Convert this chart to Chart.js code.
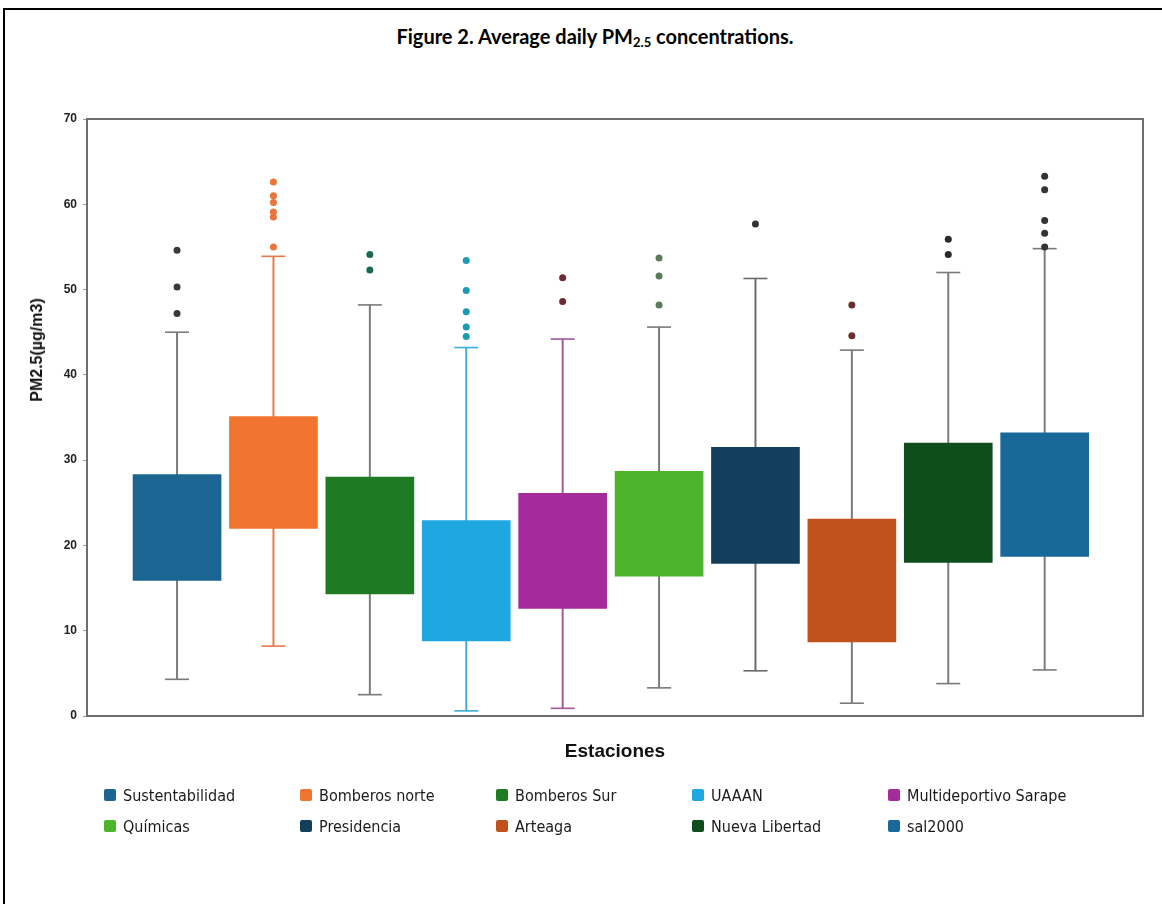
<!DOCTYPE html>
<html>
<head>
<meta charset="utf-8">
<script src="https://cdn.jsdelivr.net/npm/chart.js@4.4.1/dist/chart.umd.min.js"></script>
<style>
  body { margin: 0; background: #fff; }
  #page { position: relative; width: 1162px; height: 904px; overflow: hidden; background: #fff; }
  #frame { position: absolute; left: 3px; top: 8px; width: 1170px; height: 910px;
           border-left: 2px solid #000; border-top: 2px solid #000; }
  #title { position: absolute; left: 0; top: 24px; width: 1162px; text-align: center;
           font: bold 20px Lato, "Liberation Sans", sans-serif; color: #000; padding-left: 28px; box-sizing: border-box; }
  #title sub { font-size: 13px; vertical-align: -3px; line-height: 0; }
  #wrap { position: absolute; left: 0; top: 0; width: 1162px; height: 904px; }
  #ytitle { position: absolute; left: 37px; top: 350px; transform: translate(-50%, -50%) rotate(-90deg);
            white-space: nowrap; font: bold 16px "Liberation Sans", Arial, sans-serif; color: #111; }
  #legend { position: absolute; left: 104px; top: 786px; display: grid;
            grid-template-columns: repeat(5, 196px); row-gap: 13px; }
  .item { display: flex; align-items: center; height: 18px;
          font: 16px "DejaVu Sans Condensed", "DejaVu Sans", sans-serif; color: #1a1a1a; }
  .sw { width: 12px; height: 12px; border-radius: 2px; margin-right: 7px; flex: none; }
</style>
</head>
<body>
<div id="page">
  <div id="frame"></div>
  <div id="title">Figure 2. Average daily PM<sub>2.5</sub> concentrations.</div>
  <div id="wrap"><canvas id="boxChart"></canvas></div>
  <div id="ytitle">PM2.5(µg/m3)</div>
  <div id="legend"></div>
</div>
<script>
// estaciones y valores (µg/m3)
var stations = ['Sustentabilidad', 'Bomberos norte', 'Bomberos Sur', 'UAAAN', 'Multideportivo Sarape',
                'Químicas', 'Presidencia', 'Arteaga', 'Nueva Libertad', 'sal2000'];
var q1 = [15.9, 22.0, 14.3, 8.8, 12.6, 16.4, 17.9, 8.7, 18.0, 18.7];
var q3 = [28.3, 35.1, 28.0, 22.9, 26.1, 28.7, 31.5, 23.1, 32.0, 33.2];
var whiskerLow = [4.3, 8.2, 2.5, 0.6, 0.9, 3.3, 5.3, 1.5, 3.8, 5.4];
var whiskerHigh = [45.0, 53.9, 48.2, 43.2, 44.2, 45.6, 51.3, 42.9, 52.0, 54.8];
var outliers = [
  [54.6, 50.3, 47.2],
  [62.6, 61.0, 60.2, 59.1, 58.5, 55.0],
  [54.1, 52.3],
  [53.4, 49.9, 47.4, 45.6, 44.5],
  [51.4, 48.6],
  [53.7, 51.6, 48.2],
  [57.7],
  [48.2, 44.6],
  [55.9, 54.1],
  [63.3, 61.7, 58.1, 56.6, 55.0]
];
var yTicks = [0, 10, 20, 30, 40, 50, 60, 70];

var boxColors = ['#1c6592', '#f1742f', '#1f7a24', '#1ea7e1', '#a52a9c',
                 '#4cb52b', '#133e5e', '#c2521b', '#104d1c', '#18699a'];
var whiskerColors = ['#7a7a7a', '#e8794a', '#7a7a7a', '#3aaed6', '#a0589a',
                     '#7a7a7a', '#6a6a6a', '#7a7a7a', '#7a7a7a', '#7a7a7a'];
var dotColors = ['#3a3a3a', '#e8763a', '#1d6a4a', '#1b9bb0', '#6b2c3a',
                 '#5c7a5c', '#333333', '#6a2e2e', '#2a2a2a', '#333333'];

// leyenda en html (5 columnas)
var legend = document.getElementById('legend');
stations.forEach(function (s, i) {
  var d = document.createElement('div');
  d.className = 'item';
  d.innerHTML = '<span class="sw" style="background:' + boxColors[i] + '"></span>' + s;
  legend.appendChild(d);
});

var boxData = [], whiskerData = [], capData = [], capColors = [], dotData = [], dotPointColors = [];
stations.forEach(function (s, i) {
  boxData.push({x: i + 1, y: [q1[i], q3[i]]});
  whiskerData.push({x: i + 1, y: [whiskerLow[i], whiskerHigh[i]]});
  capData.push({x: i + 1, y: whiskerLow[i]});
  capData.push({x: i + 1, y: whiskerHigh[i]});
  capColors.push(whiskerColors[i], whiskerColors[i]);
  outliers[i].forEach(function (v) {
    dotData.push({x: i + 1, y: v});
    dotPointColors.push(dotColors[i]);
  });
});

var plotFrame = {
  id: 'plotFrame',
  beforeDatasetsDraw: function (chart) {
    var a = chart.chartArea, ctx = chart.ctx;
    ctx.save();
    ctx.strokeStyle = '#6e6e6e';
    ctx.lineWidth = 2;
    ctx.strokeRect(a.left, a.top, a.right - a.left, a.bottom - a.top);
    ctx.restore();
  }
};

var ctx = document.getElementById('boxChart').getContext('2d');
var myChart = new Chart(ctx, {
  type: 'bar',
  data: {
    datasets: [
      { type: 'scatter', data: dotData, pointRadius: 3.5, pointHoverRadius: 3.5,
        backgroundColor: dotPointColors, borderColor: dotPointColors, borderWidth: 0, order: 0 },
      { type: 'bar', data: boxData, backgroundColor: boxColors, barThickness: 88,
        grouped: false, order: 1 },
      { type: 'scatter', data: capData, pointStyle: 'line', pointRadius: 12, pointHoverRadius: 12,
        borderColor: capColors, borderWidth: 1.6, order: 2 },
      { type: 'bar', data: whiskerData, backgroundColor: whiskerColors, barThickness: 1.3,
        grouped: false, order: 3 }
    ]
  },
  options: {
    responsive: true,
    maintainAspectRatio: false,
    animation: false,
    events: [],
    layout: { padding: { left: 22, top: 119, right: 19, bottom: 128 } },
    plugins: { legend: { display: false }, tooltip: { enabled: false }, title: { display: false } },
    scales: {
      x: {
        type: 'linear', min: 0.066, max: 11.02, offset: false,
        grid: { display: false }, border: { display: false },
        ticks: { display: false },
        title: { display: true, text: 'Estaciones', color: '#111',
                 font: { family: '"Liberation Sans", Arial, sans-serif', size: 19, weight: 'bold' },
                 padding: { top: 0, bottom: 13 } },
        afterFit: function (scale) { scale.height = 60; }
      },
      y: {
        min: 0, max: 70,
        afterBuildTicks: function (scale) { scale.ticks = yTicks.map(function (v) { return {value: v}; }); },
        grid: { drawOnChartArea: false, tickLength: 4, color: '#9a9a9a' },
        border: { display: false },
        ticks: { color: '#222', padding: 6,
                 font: { family: '"Liberation Sans", Arial, sans-serif', size: 12, weight: 'bold' } },
        afterFit: function (scale) { scale.width = 65; }
      }
    }
  },
  plugins: [plotFrame]
});
</script>
</body>
</html>
